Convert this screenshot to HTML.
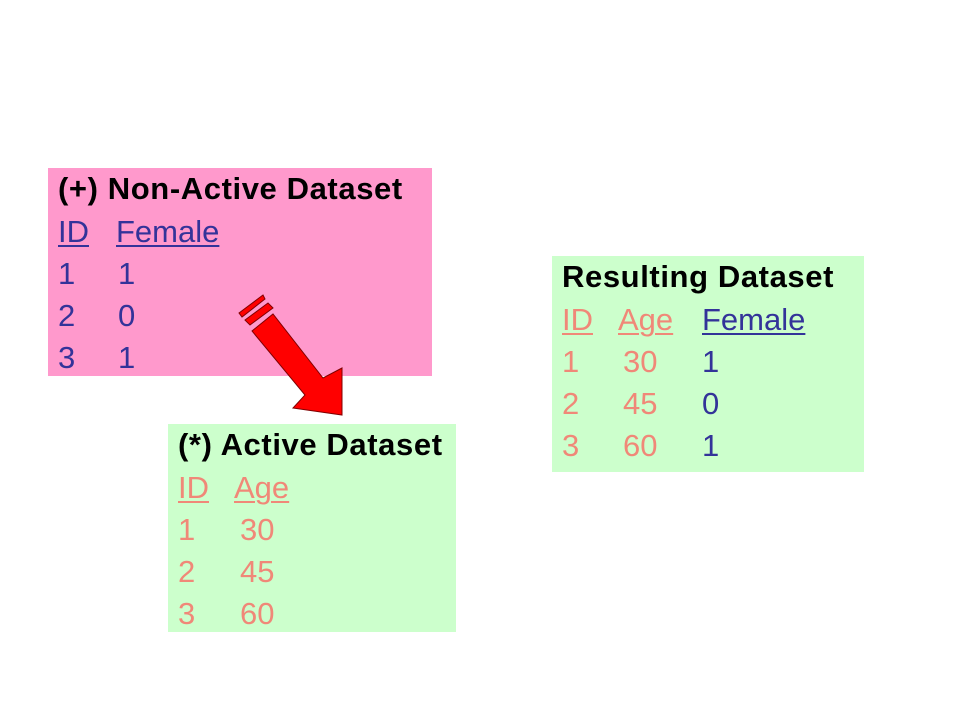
<!DOCTYPE html>
<html><head><style>
body{margin:0;width:960px;height:720px;background:#fff;position:relative;overflow:hidden;font-family:"Liberation Sans",sans-serif}
.box{position:absolute}
.t{position:absolute;font-size:31px;white-space:pre;line-height:1}
.b{font-weight:bold;color:#000;font-size:31px;letter-spacing:0.6px}
.bl{color:#333399}.rd{color:#f08878}
u{text-decoration:underline;text-decoration-thickness:2px;text-underline-offset:3px}
</style></head><body>
<div class="box" style="left:48px;top:168px;width:384px;height:208px;background:#ff99cc"></div>
<div class="box" style="left:168px;top:424px;width:288px;height:208px;background:#ccffcc"></div>
<div class="box" style="left:552px;top:256px;width:312px;height:216px;background:#ccffcc"></div>

<div class="t b" style="left:58px;top:173px">(+) Non-Active Dataset</div>
<div class="t bl" style="left:58px;top:216px"><u>ID</u></div><div class="t bl" style="left:116px;top:216px"><u>Female</u></div>
<div class="t bl" style="left:58px;top:258px">1</div><div class="t bl" style="left:118px;top:258px">1</div>
<div class="t bl" style="left:58px;top:300px">2</div><div class="t bl" style="left:118px;top:300px">0</div>
<div class="t bl" style="left:58px;top:342px">3</div><div class="t bl" style="left:118px;top:342px">1</div>

<div class="t b" style="left:178px;top:429px">(*) Active Dataset</div>
<div class="t rd" style="left:178px;top:472px"><u>ID</u></div><div class="t rd" style="left:234px;top:472px"><u>Age</u></div>
<div class="t rd" style="left:178px;top:514px">1</div><div class="t rd" style="left:240px;top:514px">30</div>
<div class="t rd" style="left:178px;top:556px">2</div><div class="t rd" style="left:240px;top:556px">45</div>
<div class="t rd" style="left:178px;top:598px">3</div><div class="t rd" style="left:240px;top:598px">60</div>

<div class="t b" style="left:562px;top:261px">Resulting Dataset</div>
<div class="t rd" style="left:562px;top:304px"><u>ID</u></div><div class="t rd" style="left:618px;top:304px"><u>Age</u></div><div class="t bl" style="left:702px;top:304px"><u>Female</u></div>
<div class="t rd" style="left:562px;top:346px">1</div><div class="t rd" style="left:623px;top:346px">30</div><div class="t bl" style="left:702px;top:346px">1</div>
<div class="t rd" style="left:562px;top:388px">2</div><div class="t rd" style="left:623px;top:388px">45</div><div class="t bl" style="left:702px;top:388px">0</div>
<div class="t rd" style="left:562px;top:430px">3</div><div class="t rd" style="left:623px;top:430px">60</div><div class="t bl" style="left:702px;top:430px">1</div>

<svg width="960" height="720" style="position:absolute;left:0;top:0">
<g fill="#ff0000" stroke="#800000" stroke-width="1">
<polygon points="252,331 273,314 323,378 342,368 342,415 293,408 305,395"/>
<polygon points="245,320 268,303 273,308 250,325"/>
<polygon points="239,313 263,295 265,299 242,317"/>
</g>
</svg>
</body></html>
